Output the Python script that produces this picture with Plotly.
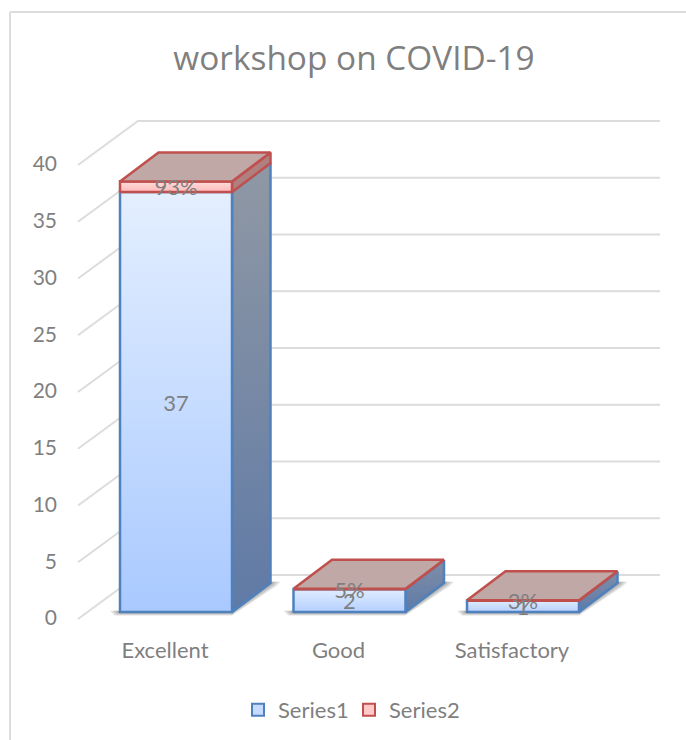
import plotly.graph_objects as go

categories = ["Excellent", "Good", "Satisfactory"]
series1 = [37, 2, 1]
series2 = [0.93, 0.05, 0.03]
series2_labels = ["93%", "5%", "3%"]
y_ticks = [0, 5, 10, 15, 20, 25, 30, 35, 40]

W, H = 686, 740
L, R, T, B = 72, 668, 100, 630   # plot-area pixels
X0, DX = 176.0, 173.5            # pixel of first category, pixels per category
Y0, DY = 612.0, 11.35            # pixel of value 0, pixels per value

BAR = 112 / DX
DEPTH_X, DEPTH_Y = 38.5 / DX, 29 / DY
WALL_X, WALL_Y = (78 - X0) / DX, -7 / DY
BACK_X, BACK_Y = (138 - X0) / DX, 37 / DY
END_X = (660 - X0) / DX
LABEL_DROP = 3 / DY

x_range = [(L - X0) / DX, (R - X0) / DX]
y_range = [(Y0 - B) / DY, (Y0 - T) / DY]

GRID = "#dcdcdc"
TXT = "#7f7f7f"
S1_LINE, S2_LINE = "#4f81bd", "#c0504d"

shapes = []
for v in y_ticks:
    path = (f"M{WALL_X},{v + WALL_Y} L{BACK_X},{v + BACK_Y} L{END_X},{v + BACK_Y}")
    shapes.append(dict(type="path", path=path, line=dict(color=GRID, width=2), layer="below"))

# chart-area frame in paper coordinates
def px(x): return (x - L) / (R - L)
def py(y): return (B - y) / (B - T)
for a, b, c, d in [(10, 12, 690, 12), (10, 12, 10, 745)]:
    shapes.append(dict(type="line", xref="paper", yref="paper", x0=px(a), y0=py(b), x1=px(c), y1=py(d),
                       line=dict(color=GRID, width=2), layer="below"))

fig = go.Figure()

# real stacked bars (base of the 3-D look, and legend swatches)
fig.add_bar(x=list(range(3)), y=series1, name="Series1", width=BAR,
            marker=dict(color="#c6dbff", line=dict(color=S1_LINE, width=2)))
fig.add_bar(x=list(range(3)), y=series2, name="Series2", width=BAR,
            marker=dict(color="#ffc9c9", line=dict(color=S2_LINE, width=2)))


def poly(xs, ys, line, width=2.5, color=None, grad=None):
    kw = dict(x=xs + xs[:1], y=ys + ys[:1], mode="lines", fill="toself", showlegend=False,
              hoverinfo="skip", line=dict(color=line, width=width))
    if grad:
        kw["fillgradient"] = dict(type="vertical", colorscale=[[0, grad[0]], [1, grad[1]]])
    else:
        kw["fillcolor"] = color
    fig.add_scatter(**kw)


for i in range(3):
    l, r = i - BAR / 2, i + BAR / 2
    a, b = series1[i], series1[i] + series2[i]
    # soft floor shadow, layered
    for g in (10, 7, 4, 2):
        gx, gy = g / DX, g / DY
        poly([l - gx, l - gx / 2, r, r + DEPTH_X + gx / 2, r + DEPTH_X + gx, r + DEPTH_X, r],
             [0.1, -gy * 0.35, -gy * 0.35, DEPTH_Y - gy * 0.35, DEPTH_Y + 0.1, DEPTH_Y + 0.1, 0.1],
             "rgba(0,0,0,0)", 0, color="rgba(70,70,70,0.16)")
    # side faces
    poly([r, r + DEPTH_X, r + DEPTH_X, r], [0, DEPTH_Y, a + DEPTH_Y, a], S1_LINE,
         grad=("#5f7aa6", "#9098a4") if i == 0 else ("#5f7aa6", "#7f8ea8"))
    poly([r, r + DEPTH_X, r + DEPTH_X, r], [a, a + DEPTH_Y, b + DEPTH_Y, b], S2_LINE,
         color="#b08080")
    # front faces
    poly([l, r, r, l], [0, 0, a, a], S1_LINE, grad=("#a9c9ff", "#e4efff") if i == 0 else ("#b5d0ff", "#e0ecff"))
    poly([l, r, r, l], [a, a, b, b], S2_LINE, grad=("#ffb9b9", "#ffdcdc"))
    # top face
    poly([l, r, r + DEPTH_X, l + DEPTH_X], [b, b, b + DEPTH_Y, b + DEPTH_Y], S2_LINE, color="#bfa8a6")

# data labels, centred in each stacked segment
fig.add_scatter(x=list(range(3)), y=[v / 2 - LABEL_DROP for v in series1], mode="text",
                text=[str(v) for v in series1], showlegend=False, hoverinfo="skip",
                textfont=dict(family="Lato", size=22, color=TXT))
fig.add_scatter(x=list(range(3)), y=[a + b / 2 - LABEL_DROP for a, b in zip(series1, series2)], mode="text",
                text=series2_labels, showlegend=False, hoverinfo="skip",
                textfont=dict(family="Lato", size=22, color=TXT))

fig.update_layout(
    width=W, height=H, barmode="stack", paper_bgcolor="white", plot_bgcolor="white",
    margin=dict(l=L, r=W - R, t=T, b=H - B, autoexpand=False),
    font=dict(family="Lato", color=TXT, size=19),
    title=dict(text="workshop on COVID-19", x=354 / W, xanchor="center", y=1 - 58 / H, yanchor="middle",
               font=dict(family="Open Sans", size=33.4, color=TXT)),
    xaxis=dict(range=x_range, tickmode="array", tickvals=list(range(3)), ticktext=categories,
               showgrid=False, zeroline=False, showline=False, ticks="", ticklabelstandoff=5, ticklabelshift=-11,
               tickfont=dict(family="Lato", size=22, color=TXT)),
    yaxis=dict(range=y_range, tickmode="array", tickvals=y_ticks, showgrid=False, zeroline=False,
               showline=False, ticks="", ticklabelshift=6, ticklabelstandoff=14,
               tickfont=dict(family="Lato", size=21, color=TXT)),
    legend=dict(orientation="h", x=px(238), xanchor="left", y=py(710), yanchor="middle", traceorder="normal",
                entrywidth=66, entrywidthmode="pixels",
                font=dict(family="Lato", size=22, color=TXT), itemclick=False, bgcolor="rgba(0,0,0,0)"),
    shapes=shapes,
)
fig.write_html("out.html", post_script="document.body.style.margin='0';",
               config=dict(displayModeBar=False))
